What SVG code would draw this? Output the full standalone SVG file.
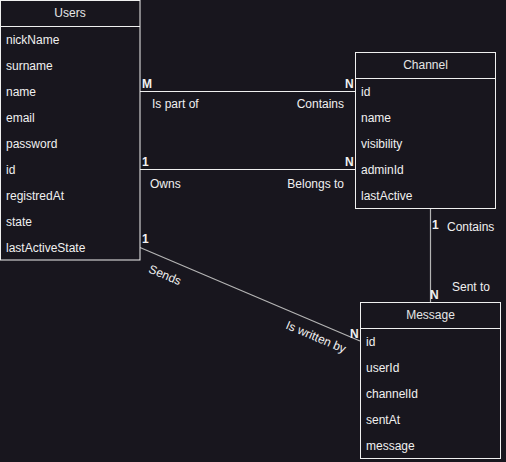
<svg xmlns="http://www.w3.org/2000/svg" width="506" height="462" viewBox="0 0 506 462">
  <style>
    .box { fill: #18161e; stroke: #f0f0f0; stroke-width: 1; }
    .sep { stroke: #f0f0f0; stroke-width: 1; }
    .title { font-family: "Liberation Sans", Arial, sans-serif; font-size: 12px; fill: #e6e6e6; text-anchor: middle; dominant-baseline: central; }
    .attr { font-family: "Liberation Sans", Arial, sans-serif; font-size: 12px; fill: #f0f0f0; dominant-baseline: central; }
    .lbl { font-family: "Liberation Sans", Arial, sans-serif; font-size: 12px; fill: #f0f0f0; dominant-baseline: central; }
    .card { font-family: "Liberation Sans", Arial, sans-serif; font-size: 12px; font-weight: bold; fill: #f0f0f0; }
    .edge { stroke: #f0f0f0; stroke-width: 1; fill: none; }
    .edge2 { stroke: #b4b4b4; stroke-width: 1.2; fill: none; }
  </style>
  <rect width="506" height="462" fill="#18161e"/>

  <!-- relationships -->
  <g id="connectors">
    <line class="edge" x1="140" y1="91.5" x2="355" y2="91.5"/>
    <line class="edge" x1="140" y1="169.5" x2="355" y2="169.5"/>
    <line class="edge2" x1="140" y1="247.5" x2="360" y2="341"/>
    <line class="edge2" x1="430.5" y1="208" x2="430.5" y2="302"/>

    <text class="card" x="142" y="88">M</text>
    <text class="card" x="345" y="88">N</text>
    <text class="lbl" x="152" y="104">Is part of</text>
    <text class="lbl" x="344" y="104" text-anchor="end">Contains</text>

    <text class="card" x="142" y="166">1</text>
    <text class="card" x="345" y="166">N</text>
    <text class="lbl" x="150" y="184">Owns</text>
    <text class="lbl" x="344" y="184" text-anchor="end">Belongs to</text>

    <text class="card" x="142" y="243">1</text>
    <text class="card" x="350" y="338">N</text>
    <text class="lbl" x="165" y="275" text-anchor="middle" transform="rotate(23 165 275)">Sends</text>
    <text class="lbl" x="316" y="337" text-anchor="middle" transform="rotate(23 316 337)">Is written by</text>

    <text class="card" x="432" y="229">1</text>
    <text class="lbl" x="447" y="227">Contains</text>
    <text class="card" x="430" y="299">N</text>
    <text class="lbl" x="452" y="287">Sent to</text>
  </g>

  <!-- Users entity -->
  <g id="users">
    <rect class="box" x="0.5" y="0.5" width="139.5" height="259.5"/>
    <line class="sep" x1="0.5" y1="26.5" x2="140" y2="26.5"/>
    <text class="title" x="70" y="13">Users</text>
    <text class="attr" x="6" y="40">nickName</text>
    <text class="attr" x="6" y="66">surname</text>
    <text class="attr" x="6" y="92">name</text>
    <text class="attr" x="6" y="118">email</text>
    <text class="attr" x="6" y="144">password</text>
    <text class="attr" x="6" y="170">id</text>
    <text class="attr" x="6" y="196">registredAt</text>
    <text class="attr" x="6" y="222">state</text>
    <text class="attr" x="6" y="248">lastActiveState</text>
  </g>

  <!-- Channel entity -->
  <g id="channel">
    <rect class="box" x="355.5" y="52.5" width="140" height="156"/>
    <line class="sep" x1="355.5" y1="78.5" x2="495.5" y2="78.5"/>
    <text class="title" x="425.5" y="65">Channel</text>
    <text class="attr" x="361" y="92">id</text>
    <text class="attr" x="361" y="118">name</text>
    <text class="attr" x="361" y="144">visibility</text>
    <text class="attr" x="361" y="170">adminId</text>
    <text class="attr" x="361" y="196">lastActive</text>
  </g>

  <!-- Message entity -->
  <g id="message">
    <rect class="box" x="360.5" y="302.5" width="140" height="156"/>
    <line class="sep" x1="360.5" y1="328.5" x2="500.5" y2="328.5"/>
    <text class="title" x="430.5" y="315">Message</text>
    <text class="attr" x="366" y="342">id</text>
    <text class="attr" x="366" y="368">userId</text>
    <text class="attr" x="366" y="394">channelId</text>
    <text class="attr" x="366" y="420">sentAt</text>
    <text class="attr" x="366" y="446">message</text>
  </g>
</svg>
